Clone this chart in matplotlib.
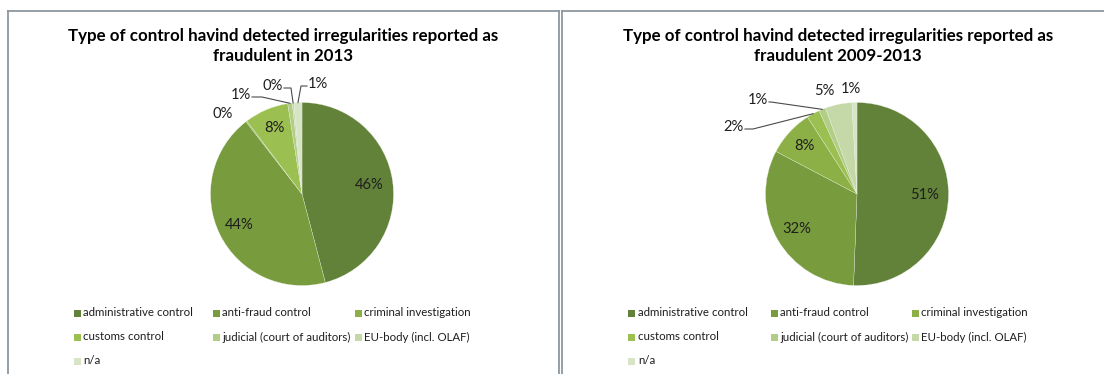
import numpy as np
import matplotlib.pyplot as plt
from matplotlib.patches import Rectangle
from matplotlib.lines import Line2D

# Categories and shares (%) of irregularities reported as fraudulent
categories = ['administrative control', 'anti-fraud control', 'criminal investigation',
              'customs control', 'judicial (court of auditors)', 'EU-body (incl. OLAF)', 'n/a']
share_2013 = [45.9, 43.6, 0.2, 7.8, 0.8, 0.3, 1.4]
share_2009_2013 = [50.6, 32.1, 8.2, 2.3, 1.2, 4.7, 0.9]

colors = ['#62823A', '#789B3E', '#8CB046', '#9CBF52', '#B2CD86', '#C5D9A8', '#D7E5C6']

W, H, DPI = 1104, 374, 100
R = 91.5  # pie radius in pixels

fig = plt.figure(figsize=(W / DPI, H / DPI), dpi=DPI)
fig.patch.set_facecolor('white')

FONT = 'Lato'
TXT = '#1E1E1E'


def fx(x):
    return x / W


def fy(y):
    return 1 - y / H


def draw_panel(x0, x1, cx, title, values, inside, outside):
    # frame around the chart area
    for xs, ys in [((x0, x0), (11, H + 5)), ((x0, x1), (11, 11)), ((x1, x1), (11, H + 5))]:
        fig.add_artist(Line2D([fx(v) for v in xs], [fy(v) for v in ys],
                              color='#8E979E', lw=1.3, transform=fig.transFigure))

    fig.text(fx(cx - 19), fy(46), title, ha='center', va='center', fontsize=12.2,
             fontweight='bold', family=FONT, color='black', linespacing=1.35)

    cy = 194
    bw, bh = 160, 130
    ax = fig.add_axes([fx(cx - bw), fy(cy + bh), 2 * bw / W, 2 * bh / H])
    wedges, _ = ax.pie(values, colors=colors, startangle=90, counterclock=False,
                       radius=1, wedgeprops=dict(edgecolor='#EEF3E6', linewidth=0.2))
    ax.set_xlim(-bw / R, bw / R)
    ax.set_ylim(-bh / R, bh / R)
    ax.set_aspect('auto')
    ax.axis('off')

    for i, w in enumerate(wedges):
        lab = '%.0f%%' % values[i]
        mid = np.deg2rad((w.theta1 + w.theta2) / 2)
        if i in inside:
            r = inside[i]
            ax.text(r * np.cos(mid), r * np.sin(mid), lab, ha='center', va='center',
                    fontsize=10.6, family=FONT, color=TXT)
        else:
            dx, dy, leader = outside[i]
            tx, ty = dx / R, dy / R
            ax.text(tx, ty, lab, ha='center', va='center', fontsize=10.6,
                    family=FONT, color=TXT)
            if leader:
                ex, ey = np.cos(mid), np.sin(mid)
                side = 1 if ex > tx else -1
                sx = tx + side * 11 / R
                kx = sx + side * leader / R
                ax.plot([sx, kx, ex], [ty - 2 / R, ty - 2 / R, ey],
                        color='#4A4A4A', lw=0.8, clip_on=False)
    return ax


def draw_legend(xcols, rows):
    for i, (name, c) in enumerate(zip(categories, colors)):
        col, row = i % 3, i // 3
        x, y = xcols[col], rows[row]
        fig.add_artist(Rectangle((fx(x - 3.5), fy(y + 3.5)), 7 / W, 7 / H,
                                 facecolor=c, edgecolor='none', transform=fig.transFigure))
        fig.text(fx(x + 6), fy(y), name, ha='left', va='center', fontsize=8.3,
                 family=FONT, color=TXT)


draw_panel(7.5, 559, 302,
           'Type of control havind detected irregularities reported as\nfraudulent in 2013',
           share_2013,
           inside={0: 0.74, 1: 0.76, 3: 0.78},
           outside={2: (-79, 80, 0), 4: (-61, 99, 10), 5: (-29, 108, 7), 6: (16, 110, 6)})
draw_legend([77, 216.5, 358], [313, 337, 361])

draw_panel(561.5, W + 5, 857,
           'Type of control havind detected irregularities reported as\nfraudulent 2009-2013',
           share_2009_2013,
           inside={0: 0.74, 1: 0.76, 2: 0.78},
           outside={3: (-123, 67, 8), 4: (-99, 94, 2), 5: (-33, 103, 0), 6: (-6, 105, 0)})
draw_legend([632, 774.5, 915], [313, 337, 361])

fig.savefig('out.png', dpi=DPI, facecolor='white')
